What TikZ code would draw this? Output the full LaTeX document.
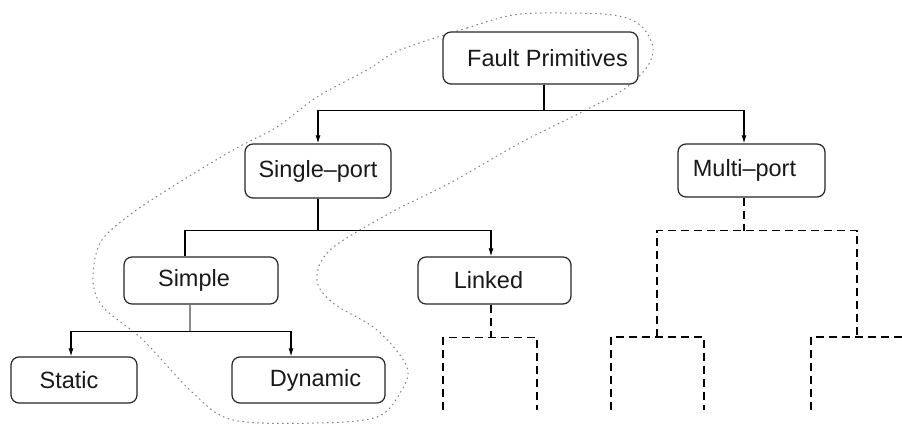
\documentclass[tikz,border=0pt]{standalone}
\usepackage{fontspec}
\setmainfont{Liberation Sans}
\usetikzlibrary{arrows.meta,positioning}
\tikzset{
  box/.style={draw=black!85, line width=1.2pt, rounded corners=8pt, fill=white,
    inner sep=0pt, font=\fontsize{23.5}{26}\selectfont, text=black!90},
  conn/.style={draw=black, line width=1.1pt},
  arr/.style={conn, -{Latex[length=8pt,width=5pt]}},
  dashconn/.style={draw=black, line width=1.3pt, dash pattern=on 8pt off 5pt},
  outline/.style={draw=black!50, line width=1pt, dash pattern=on 1.5pt off 3.5pt}
}
\begin{document}
\begin{tikzpicture}[x=1pt,y=-1pt]
\useasboundingbox (0,0) rectangle (902,435);

% grouping outline around the single-port branch
\draw[outline] plot[smooth cycle, tension=0.55] coordinates {
  (400,50) (467,28) (513,15) (557,13) (613,15) (640,25) (653,47) (647,67)
  (623,90) (580,113) (520,143) (450,183) (390,213) (330,250) (317,280)
  (333,303) (377,330) (407,367) (400,393) (377,417) (317,423) (233,420)
  (193,393) (143,340) (103,307) (93,280) (100,243) (127,217) (167,190)
  (233,150) (277,127) (317,97) (367,70)};

% tree nodes
\node[box, minimum width=195pt, minimum height=52pt] (fp) at (540.5,58) {\hspace*{14pt}Fault Primitives};
\node[box, minimum width=146pt, minimum height=54pt] (sp) at (318,171) {Single–port};
\node[box, minimum width=147pt, minimum height=53pt] (mp) at (751.5,170.5) {\hspace*{-14pt}Multi–port};
\node[box, minimum width=154pt, minimum height=47pt] (simple) at (201,280.5) {\hspace*{-14pt}Simple};
\node[box, minimum width=153pt, minimum height=47pt] (linked) at (494.5,280.5) {\hspace*{-12pt}Linked};
\node[box, minimum width=126pt, minimum height=46pt] (static) at (74,380) {\hspace*{-10pt}Static};
\node[box, minimum width=153pt, minimum height=46pt] (dynamic) at (308.5,380) {\hspace*{14pt}Dynamic};

% solid connectors
\draw[arr] ([xshift=3.5pt]fp.south) -- ++(0,26) -| (sp.north);
\draw[arr] ([xshift=3.5pt]fp.south) -- ++(0,26) -| ([xshift=-7.5pt]mp.north);
\draw[conn] (sp.south) -- ++(0,32) -| ([xshift=-16pt]simple.north);
\draw[arr] (sp.south) -- ++(0,32) -| ([xshift=-3.5pt]linked.north);
\draw[conn, draw=black!45] ([xshift=-11pt]simple.south) -- ++(0,27) coordinate (sj);
\draw[arr] (sj) -| ([xshift=-3pt]static.north);
\draw[arr] (sj) -| ([xshift=-17.5pt]dynamic.north);

% dashed continuation below Linked
\draw[dashconn] ([xshift=-3.5pt]linked.south) -- ++(0,33) coordinate (lj);
\coordinate (la) at (443,410);
\coordinate (lb) at (537,410);
\draw[dashconn] (la) |- (lj) -| (lb);

% dashed continuation below Multi-port
\draw[dashconn] ([xshift=-7.5pt]mp.south) -- ++(0,33) coordinate (mj);
\coordinate (ml) at (657,337);
\coordinate (mr) at (857,337);
\draw[dashconn] (ml) |- (mj) -| (mr);
\coordinate (ma) at (611,410);
\coordinate (mb) at (704,410);
\draw[dashconn] (ma) |- (ml) -| (mb);
\coordinate (mc) at (811,410);
\coordinate (md) at (902,337);
\draw[dashconn] (mc) |- (md);
\end{tikzpicture}
\end{document}
